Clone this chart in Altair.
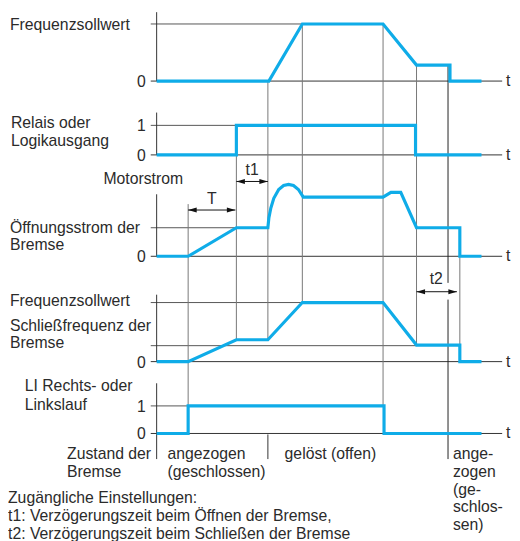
import altair as alt
import pandas as pd

# ---------------- data: signal traces (time, normalised value) ----------------
freq_t = [159, 273, 307, 389, 423, 457, 457, 489]
freq_v = [0, 0, 1, 1, 0.28, 0.28, 0, 0]

relay_t = [159, 240, 240, 422, 422, 489]
relay_v = [0, 0, 1, 1, 0, 0]

current_t = [159, 191, 240, 272, 273, 275, 278, 283, 288, 293, 298, 303, 308,
             389, 397, 407, 423, 467, 467, 489]
current_v = [0, 0, 1, 1, 1.34, 1.69, 2.03, 2.34, 2.48, 2.52, 2.48, 2.34, 2.07,
             2.07, 2.24, 2.24, 1, 1, 0, 0]

freq2_t = [159, 191, 240, 272, 307, 389, 423, 467, 467, 489]
freq2_v = [0, 0, 0.37, 0.37, 1, 1, 0.28, 0.28, 0, 0]

li_t = [159, 191, 191, 390, 390, 489]
li_v = [0, 0, 1, 1, 0, 0]

# ---------------- layout (panel zero line y, pixels per unit) ----------------
PANELS = {"p1": (78, 58), "p2": (153, 30), "p3": (256, 29), "p4": (363, 60), "p5": (436, 28)}
AXIS_X = 159
LINE_START = 153
LINE_END = 510
Y_AXIS_TOP = {"p1": 8, "p2": 110, "p3": 193, "p4": 295, "p5": 385}
Y_AXIS_BOTTOM = {"p5": 462}

SIGNAL_COLOR = "#0FACE8"
FONT = "Liberation Sans"
TXT = "#2b2b2b"


def py(panel, v):
    z, u = PANELS[panel]
    return z - v * u


signals = [("freq", "p1", freq_t, freq_v), ("relay", "p2", relay_t, relay_v),
           ("current", "p3", current_t, current_v), ("freq2", "p4", freq2_t, freq2_v),
           ("li", "p5", li_t, li_v)]
sig_rows = []
for name, panel, ts, vs in signals:
    for i, (t, v) in enumerate(zip(ts, vs)):
        sig_rows.append(dict(series=name, order=i, x=t, y=py(panel, v)))
sig_df = pd.DataFrame(sig_rows)

# level lines: (panel, value, end time)
levels = [("p1", 1, 307), ("p2", 1, 240), ("p3", 1, 240), ("p4", 1, 307), ("p4", 0.27, 423), ("p5", 1, 191)]
rules = []
for p, v, xe in levels:
    rules.append(dict(x=LINE_START, x2=xe, y=py(p, v), y2=py(p, v), c="#555555"))
for p in PANELS:
    rules.append(dict(x=LINE_START, x2=LINE_END, y=py(p, 0), y2=py(p, 0), c="#333333"))
    yb = Y_AXIS_BOTTOM.get(p, py(p, 0))
    rules.append(dict(x=AXIS_X, x2=AXIS_X, y=Y_AXIS_TOP[p], y2=yb, c="#333333"))

# vertical guide lines (time, from y, to y, colour)
guides = [(191, 203, 408, "#777777"), (240, 153, 341, "#777777"), (272, 78, 341, "#777777"),
          (272, 437, 462, "#333333"), (307, 20, 303, "#777777"), (389, 20, 408, "#777777"),
          (423, 62, 346, "#777777"), (455, 62, 283, "#222222"), (455, 300, 462, "#222222"),
          (467, 227, 347, "#777777")]
for gx, y1, y2, c in guides:
    rules.append(dict(x=gx, x2=gx, y=y1, y2=y2, c=c))

# dimension arrows (from, to, y)
arrows = [(191, 239, 209), (240, 272, 180), (423, 464, 292)]
for a, b, y in arrows:
    rules.append(dict(x=a, x2=b, y=y, y2=y, c="#111111"))
rules_df = pd.DataFrame(rules)

heads = []
for a, b, y in arrows:
    heads.append(dict(x=a, y=y, s="M0,0L1,-0.3L1,0.3Z"))
    heads.append(dict(x=b, y=y, s="M0,0L-1,-0.3L-1,0.3Z"))
heads_df = pd.DataFrame(heads)

# texts
left_texts = [
    ("Frequenzsollwert", 10, 26), ("Relais oder", 11, 126), ("Logikausgang", 11, 144),
    ("Motorstrom", 105, 183), ("Öffnungsstrom der", 10, 232), ("Bremse", 10, 250),
    ("Frequenzsollwert", 10, 307), ("Schließfrequenz der", 10, 332), ("Bremse", 10, 349),
    ("LI Rechts- oder", 25, 393), ("Linkslauf", 25, 412),
    ("Zustand der", 68, 462), ("Bremse", 68, 480),
    ("angezogen", 170, 462), ("(geschlossen)", 170, 480), ("gelöst (offen)", 289, 462),
    ("ange-", 460, 462), ("zogen", 460, 480), ("(ge-", 460, 498), ("schlos-", 460, 516), ("sen)", 460, 534),
    ("Zugängliche Einstellungen:", 8, 507),
    ("t1: Verzögerungszeit beim Öffnen der Bremse,", 8, 525),
    ("t2: Verzögerungszeit beim Schließen der Bremse", 8, 543),
]
for p in PANELS:
    left_texts.append(("t", 514, py(p, 0) + 5))
tick_texts = [("0", 148, py("p1", 0) + 6), ("1", 148, py("p2", 1) + 6), ("0", 148, py("p2", 0) + 6),
              ("0", 148, py("p3", 0) + 6), ("0", 148, py("p4", 0) + 6),
              ("1", 148, py("p5", 1) + 6), ("0", 148, py("p5", 0) + 6)]
center_texts = [("T", 215, 203), ("t1", 256, 173), ("t2", 443, 284)]

ldf = pd.DataFrame(left_texts, columns=["text", "x", "y"])
rdf = pd.DataFrame(tick_texts, columns=["text", "x", "y"])
cdf = pd.DataFrame(center_texts, columns=["text", "x", "y"])

xs = alt.Scale(domain=[8, 520], nice=False, zero=False)
ys = alt.Scale(domain=[541, 8], nice=False, zero=False)
X = alt.X("x:Q", scale=xs, axis=None)
Y = alt.Y("y:Q", scale=ys, axis=None)

rule_layer = alt.Chart(rules_df).mark_rule(strokeWidth=1).encode(
    x=X, x2="x2:Q", y=Y, y2="y2:Q", color=alt.Color("c:N", scale=None))

head_layer = alt.Chart(heads_df).mark_point(filled=True, size=300, color="#111111", opacity=1).encode(
    x=X, y=Y, shape=alt.Shape("s:N", scale=None))

sig_layer = alt.Chart(sig_df).mark_line(color=SIGNAL_COLOR, strokeWidth=3.2, strokeJoin="miter").encode(
    x=X, y=Y, detail="series:N", order="order:Q")

text_l = alt.Chart(ldf).mark_text(align="left", baseline="alphabetic", font=FONT, fontSize=16, color=TXT).encode(
    x=X, y=Y, text="text:N")
text_r = alt.Chart(rdf).mark_text(align="right", baseline="alphabetic", font=FONT, fontSize=16, color=TXT).encode(
    x=X, y=Y, text="text:N")
text_c = alt.Chart(cdf).mark_text(align="center", baseline="alphabetic", font=FONT, fontSize=16, color=TXT).encode(
    x=X, y=Y, text="text:N")

chart = alt.layer(rule_layer, head_layer, sig_layer, text_l, text_r, text_c).properties(
    width=512, height=533, autosize=alt.AutoSizeParams(type="none"), padding=0
).configure_view(stroke=None)

chart.save("out.html", embed_options={"renderer": "svg", "actions": False})
